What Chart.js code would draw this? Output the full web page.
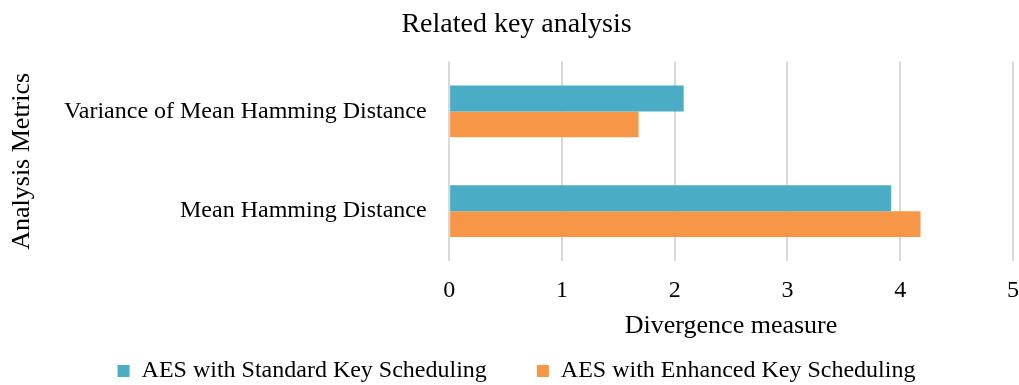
<!DOCTYPE html>
<html>
<head>
<meta charset="utf-8">
<title>Related key analysis</title>
<script src="https://cdn.jsdelivr.net/npm/chart.js@4/dist/chart.umd.min.js"></script>
<style>
  html, body { margin: 0; padding: 0; background: #ffffff; }
  #wrap { width: 1019px; height: 385px; position: relative; }
</style>
</head>
<body>
<div id="wrap"><canvas id="chart"></canvas></div>
<script>
// Metrics shown on the category axis (top to bottom)
const metrics = ['Variance of Mean Hamming Distance', 'Mean Hamming Distance'];
// Series names
const seriesNames = ['AES with Standard Key Scheduling', 'AES with Enhanced Key Scheduling'];
// Divergence values per metric
const standardValues = [2.08, 3.92];
const enhancedValues = [1.68, 4.18];
// Value axis ticks
const xTicks = [0, 1, 2, 3, 4, 5];

const serif = '"Liberation Serif", "Times New Roman", Times, serif';

new Chart(document.getElementById('chart'), {
  type: 'bar',
  data: {
    labels: metrics,
    datasets: [
      { label: seriesNames[0], data: standardValues, backgroundColor: '#4BACC6', borderWidth: 0 },
      { label: seriesNames[1], data: enhancedValues, backgroundColor: '#F79646', borderWidth: 0 }
    ]
  },
  options: {
    indexAxis: 'y',
    responsive: true,
    maintainAspectRatio: false,
    animation: false,
    categoryPercentage: 0.52,
    barPercentage: 1.0,
    layout: { padding: { left: 14, right: 0, top: 0, bottom: 0 } },
    plugins: {
      title: {
        display: true,
        text: 'Related key analysis',
        color: '#000000',
        font: { family: serif, size: 28, weight: 'normal' },
        padding: { top: 8, bottom: 20 }
      },
      legend: {
        position: 'bottom',
        maxHeight: 76,
        labels: {
          color: '#000000',
          font: { family: serif, size: 24 },
          boxWidth: 12,
          boxHeight: 12,
          padding: 50
        }
      },
      tooltip: { enabled: false }
    },
    scales: {
      x: {
        min: 0,
        max: 5,
        afterBuildTicks: (axis) => { axis.ticks = xTicks.map(v => ({ value: v })); },
        // invisible tick marks give the gap between plot and tick labels
        grid: { color: '#d9d9d9', lineWidth: 2, drawTicks: true, tickLength: 15, tickColor: 'rgba(0,0,0,0)' },
        border: { display: false },
        ticks: { color: '#000000', font: { family: serif, size: 24 }, padding: 0 },
        title: {
          display: true,
          text: 'Divergence measure',
          color: '#000000',
          font: { family: serif, size: 26 },
          padding: { top: 5.6, bottom: -32.6 }
        }
      },
      y: {
        grid: { display: false, drawTicks: false },
        border: { display: false },
        ticks: { color: '#000000', font: { family: serif, size: 24 }, padding: 22.5 },
        title: {
          display: true,
          text: 'Analysis Metrics',
          color: '#000000',
          font: { family: serif, size: 26 },
          padding: { top: -7.6, bottom: 4 }
        }
      }
    }
  }
});
</script>
</body>
</html>
